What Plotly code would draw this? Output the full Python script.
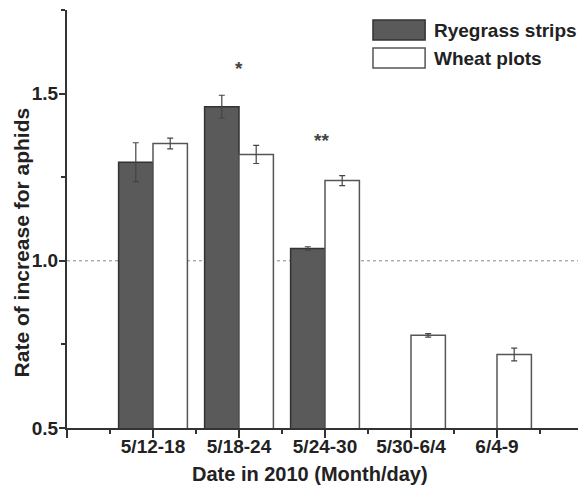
import plotly.graph_objects as go

categories = ["5/12-18", "5/18-24", "5/24-30", "5/30-6/4", "6/4-9"]
rye_values = [1.295, 1.461, 1.037]
rye_errors = [0.058, 0.034, 0.005]
wheat_values = [1.351, 1.318, 1.240, 0.777, 0.720]
wheat_errors = [0.016, 0.027, 0.015, 0.005, 0.019]
sig_labels = ["*", "**"]
sig_positions = [1, 2]
sig_y = [1.575, 1.36]
ytick_vals = [0.5, 1.0, 1.5]
ytick_text = ["0.5", "1.0", "1.5"]
series_names = ["Ryegrass strips", "Wheat plots"]
x_title = "Date in 2010 (Month/day)"
y_title = "Rate of increase for aphids"

FONT = "Liberation Sans, Arial, Helvetica, sans-serif"
AX = "#333333"
TXT = "#222222"

fig = go.Figure()
fig.add_trace(go.Bar(
    x=list(range(len(rye_values))), y=rye_values, base=0,
    width=0.4, offset=-0.4, name=series_names[0],
    marker=dict(color="#5a5a5a", line=dict(color="#333333", width=1.5)),
    error_y=dict(type="data", array=rye_errors, color="#444444", thickness=1.2, width=3),
    showlegend=False,
))
fig.add_trace(go.Bar(
    x=list(range(len(wheat_values))), y=wheat_values, base=0,
    width=0.4, offset=0, name=series_names[1],
    marker=dict(color="white", line=dict(color="#555555", width=1.5)),
    error_y=dict(type="data", array=wheat_errors, color="#444444", thickness=1.2, width=3),
    showlegend=False,
))

# reference line at 1.0
fig.add_shape(type="line", xref="x", yref="y", x0=-1, x1=5, y0=1.0, y1=1.0,
              line=dict(color="#888888", width=1, dash="3px,3px"), layer="below")

# significance markers
for lab, xp, yp in zip(sig_labels, sig_positions, sig_y):
    fig.add_annotation(x=xp - (0.04 if len(lab) > 1 else 0), y=yp, xref="x", yref="y",
                       text=lab, showarrow=False,
                       font=dict(family=FONT, size=19, color="#444444", weight=700))

# legend drawn manually
leg_boxes = [(0.976, 0.928, "#5a5a5a", "#333333"), (0.909, 0.861, "white", "#555555")]
for (y1, y0, fc, lc), name in zip(leg_boxes, series_names):
    fig.add_shape(type="rect", xref="paper", yref="paper", x0=0.593, x1=0.694, y0=y0, y1=y1,
                  fillcolor=fc, line=dict(color=lc, width=1.5))
    fig.add_annotation(x=0.707, y=(y0 + y1) / 2, xref="paper", yref="paper", text=name,
                       showarrow=False, xanchor="left", yanchor="middle",
                       font=dict(family=FONT, size=19, color=TXT, weight=700))

# axis titles
fig.add_annotation(x=0.47, y=-0.11, xref="paper", yref="paper", text=x_title,
                   showarrow=False, xanchor="center", yanchor="middle",
                   font=dict(family=FONT, size=20, color=TXT, weight=700))
fig.add_annotation(x=-0.088, y=0.443, xref="paper", yref="paper", text=y_title,
                   showarrow=False, xanchor="center", yanchor="middle", textangle=-90,
                   font=dict(family=FONT, size=21, color=TXT, weight=700))

fig.update_layout(
    width=578, height=480,
    margin=dict(l=59, r=3, t=2, b=60),
    paper_bgcolor="white", plot_bgcolor="white",
    barmode="overlay",
    font=dict(family=FONT, color=TXT),
)
fig.update_xaxes(
    range=[-1, 5],
    tickmode="array",
    tickvals=[-1] + list(range(len(categories))) + [5],
    ticktext=[""] + categories + [""],
    ticks="outside", ticklen=8, tickwidth=1.5, tickcolor=AX,
    ticklabelstandoff=-8,
    minor=dict(tickvals=[-0.5, 0.5, 1.5, 2.5, 3.5, 4.5], ticks="outside", ticklen=4,
               tickwidth=1.5, tickcolor=AX, showgrid=False),
    showline=True, linecolor=AX, linewidth=2,
    showgrid=False, zeroline=False,
    tickfont=dict(family=FONT, size=19, color=TXT, weight=700),
)
fig.update_yaxes(
    range=[0.5, 1.75],
    tickmode="array", tickvals=ytick_vals, ticktext=ytick_text,
    ticks="outside", ticklen=6, tickwidth=1.5, tickcolor=AX,
    ticklabelstandoff=-3,
    minor=dict(tickvals=[0.75, 1.25, 1.75], ticks="outside", ticklen=4,
               tickwidth=1.5, tickcolor=AX, showgrid=False),
    showline=True, linecolor=AX, linewidth=2,
    showgrid=False, zeroline=False,
    tickfont=dict(family=FONT, size=19, color=TXT, weight=700),
)

fig.write_html("out.html")
